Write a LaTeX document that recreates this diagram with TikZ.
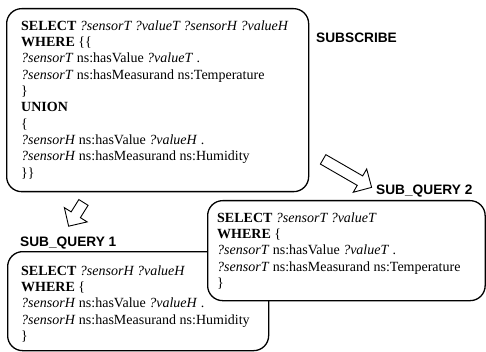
\documentclass[tikz,border=0pt]{standalone}
\usepackage{fontspec}
\setmainfont{Liberation Serif}
\newfontfamily\labelfont{Liberation Sans}
\usetikzlibrary{shapes.arrows}

\tikzset{
  qbox/.style={draw=black, line width=1.3pt, rounded corners=15pt, fill=white,
    anchor=north west, inner sep=0pt},
  qtext/.style={anchor=north west, inner sep=0pt, align=left,
    font=\fontsize{14}{16.3}\selectfont},
  qlabel/.style={anchor=base west, inner sep=0pt,
    font=\labelfont\bfseries\fontsize{13.7}{16}\selectfont},
  flow/.style={single arrow, draw=black, line width=0.9pt, fill=white,
    single arrow head extend=8pt, inner xsep=0pt, inner ysep=5pt,
    single arrow tip angle=90},
}

\begin{document}
\begin{tikzpicture}[x=1pt, y=-1pt]
  \useasboundingbox (0,0) rectangle (486,352);

  % the subscribed query
  \node[qbox, minimum width=302pt, minimum height=183pt] (main) at (6,8) {};
  \node[qtext] (maintext) at (21,20.4) {%
    \textbf{SELECT} \textit{?sensorT ?valueT ?sensorH ?valueH}\\
    \textbf{WHERE} \{\{\\
    \textit{?sensorT} ns:hasValue \textit{?valueT} .\\
    \textit{?sensorT} ns:hasMeasurand ns:Temperature\\
    \}\\
    \textbf{UNION}\\
    \{\\
    \textit{?sensorH} ns:hasValue \textit{?valueH} .\\
    \textit{?sensorH} ns:hasMeasurand ns:Humidity\\
    \}\}};
  \node[qlabel] (lsub) at (316,43) {SUBSCRIBE};

  % first sub-query
  \node[qbox, minimum width=261pt, minimum height=99pt] (sq1) at (7,251) {};
  \node[qtext] (sq1text) at (21,265.4) {%
    \textbf{SELECT} \textit{?sensorH ?valueH}\\
    \textbf{WHERE} \{\\
    \textit{?sensorH} ns:hasValue \textit{?valueH} .\\
    \textit{?sensorH} ns:hasMeasurand ns:Humidity\\
    \}};
  \node[qlabel] (lsq1) at (20,247) {SUB\_QUERY 1};

  % second sub-query, lying over the first
  \node[qbox, minimum width=277.5pt, minimum height=100pt] (sq2) at (207,200) {};
  \node[qtext] (sq2text) at (217,212.4) {%
    \textbf{SELECT} \textit{?sensorT ?valueT}\\
    \textbf{WHERE} \{\\
    \textit{?sensorT} ns:hasValue \textit{?valueT} .\\
    \textit{?sensorT} ns:hasMeasurand ns:Temperature\\
    \}};
  \node[qlabel] (lsq2) at (376,194.5) {SUB\_QUERY 2};

  % block arrows from the query to its parts
  \node[flow, minimum height=28pt, rotate=238] (arrA) at (77.5,212) {};
  \node[flow, minimum height=56pt, rotate=-30] (arrB) at (345,172) {};
\end{tikzpicture}
\end{document}
